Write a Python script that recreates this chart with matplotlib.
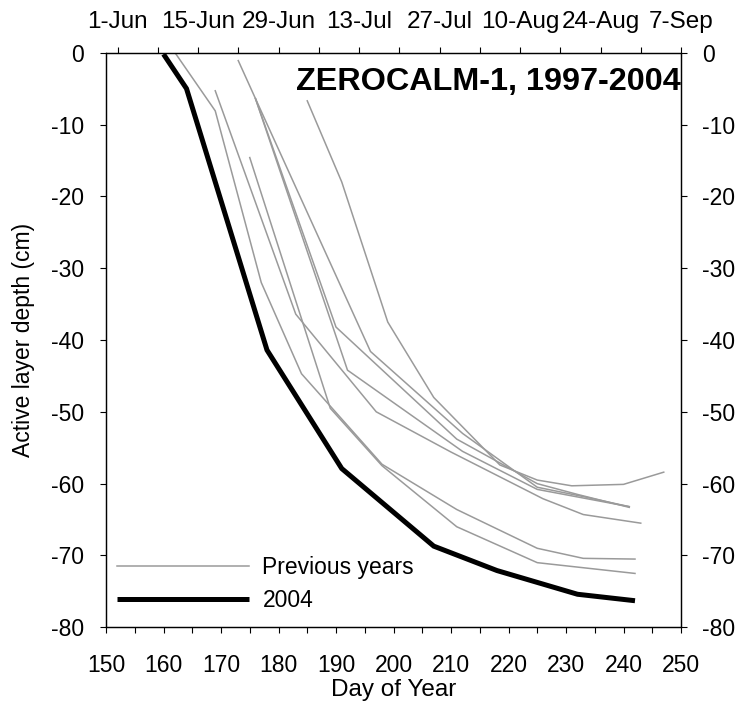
import matplotlib
matplotlib.use("Agg")
import matplotlib.pyplot as plt

plt.rcParams['font.family'] = ['Liberation Sans', 'DejaVu Sans']
plt.rcParams['axes.unicode_minus'] = False

# 2004 series
days_2004 = [160, 164, 178, 191, 207, 218, 232, 242]
depth_2004 = [-0.2, -5.0, -41.4, -57.9, -68.7, -72.1, -75.4, -76.3]

# previous years (one per year)
prev_days = [
    [162, 169, 177, 184, 198, 211, 225, 233, 242],
    [169, 183, 197, 210, 226, 233, 243],
    [173, 176, 196, 212, 225, 233, 241],
    [176, 190, 211, 225, 232, 241],
    [176, 192, 212, 225, 233, 241],
    [175, 189, 198, 211, 225, 242],
    [185, 191, 199, 207, 218.5, 225, 231, 240, 247],
]
prev_depths = [
    [0.0, -8.1, -32.0, -44.7, -57.3, -63.6, -69.0, -70.4, -70.5],
    [-5.3, -36.4, -50.0, -55.6, -62.1, -64.3, -65.5],
    [-1.1, -6.4, -41.6, -53.0, -60.5, -61.8, -63.2],
    [-6.4, -38.2, -53.8, -60.0, -61.5, -63.3],
    [-6.4, -44.2, -55.5, -60.8, -62.0, -63.2],
    [-14.6, -49.5, -57.5, -66.0, -71.0, -72.5],
    [-6.7, -18.0, -37.5, -48.0, -57.4, -59.5, -60.3, -60.1, -58.4],
]

x_ticks = list(range(150, 251, 10))
x_minor = list(range(155, 251, 10))
y_ticks = list(range(-80, 1, 10))
top_ticks = list(range(152, 251, 7))
top_labels = ['1-Jun', '', '15-Jun', '', '29-Jun', '', '13-Jul', '', '27-Jul', '',
              '10-Aug', '', '24-Aug', '', '7-Sep']

title = 'ZEROCALM-1, 1997-2004'
gray = '#9a9a9a'
fs = 16.5

fig = plt.figure(figsize=(7.46, 7.05), dpi=100)
ax = fig.add_axes([106/746, 1-627.3/705, (681-106)/746, (627.3-52.7)/705])

for i, (d, v) in enumerate(zip(prev_days, prev_depths)):
    ax.plot(d, v, color=gray, lw=1.1, label='Previous years' if i == 0 else None,
            solid_joinstyle='miter')
ax.plot(days_2004, depth_2004, color='black', lw=3.6, label='2004',
        solid_joinstyle='miter', solid_capstyle='butt')

ax.set_xlim(150, 250)
ax.set_ylim(-80, 0)
ax.set_xticks(x_ticks)
ax.set_xticks(x_minor, minor=True)
ax.set_yticks(y_ticks)
ax.tick_params(axis='both', which='both', direction='out', length=4.5, width=0.8,
               labelsize=fs)
ax.tick_params(axis='y', pad=11.5)
ax.tick_params(axis='x', which='both', pad=15)
ax.set_xlabel('Day of Year', fontsize=17.5, labelpad=1)
ax.set_ylabel('Active layer depth (cm)', fontsize=fs, labelpad=11)

for s in ax.spines.values():
    s.set_linewidth(0.9)

# top date axis
axt = ax.twiny()
axt.set_xlim(150, 250)
axt.set_xticks(top_ticks)
axt.set_xticklabels(top_labels)
axt.tick_params(axis='x', direction='out', length=4.5, width=0.8, labelsize=17.5, pad=10)

# right depth axis
axr = ax.twinx()
axr.set_ylim(-80, 0)
axr.set_yticks(y_ticks)
axr.tick_params(axis='y', direction='out', length=4.5, width=0.8, labelsize=fs, pad=10.5)

ax.text(1.0, 0.975, title, transform=ax.transAxes, ha='right', va='top',
        fontsize=23.3, fontweight='bold')

leg = ax.legend(loc='lower left', bbox_to_anchor=(-0.007, 0.0), frameon=False,
                fontsize=fs, handlelength=5.75, handletextpad=0.6,
                labelspacing=0.45, borderaxespad=0.25)

fig.savefig('out.png', dpi=100)
